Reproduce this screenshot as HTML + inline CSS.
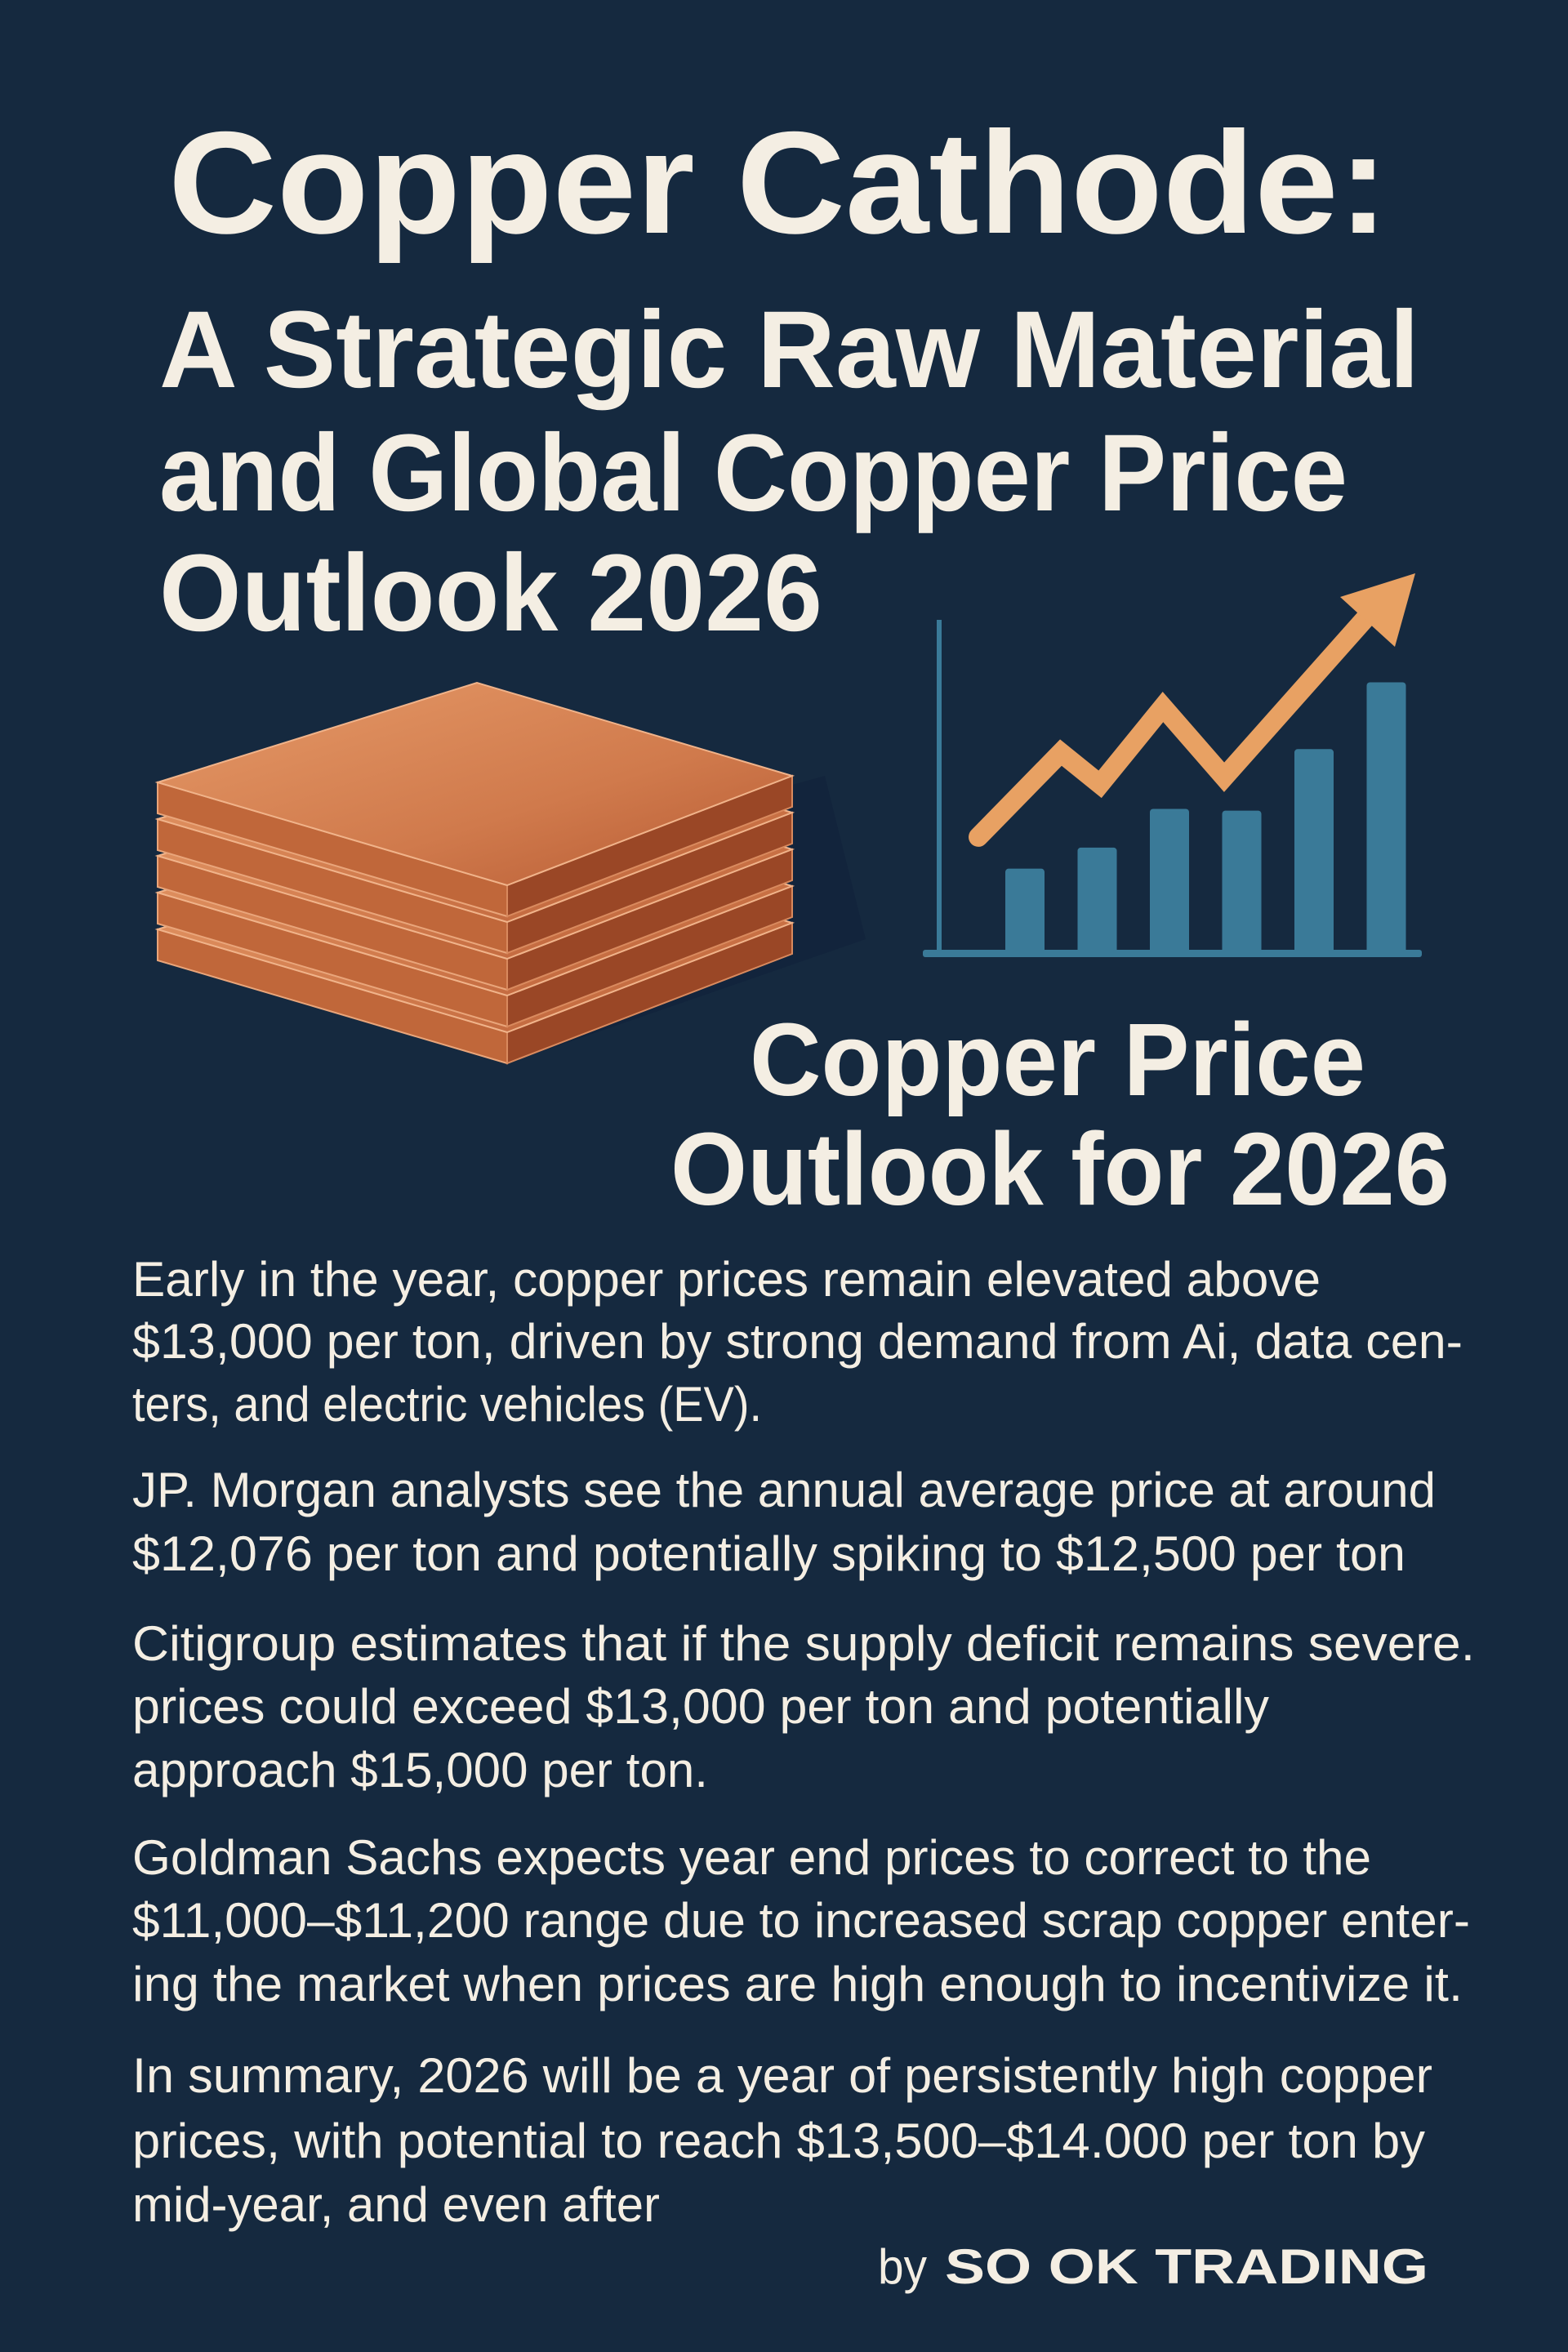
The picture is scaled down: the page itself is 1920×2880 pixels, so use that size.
<!DOCTYPE html>
<html><head><meta charset="utf-8"><title>Copper Cathode Outlook 2026</title>
<style>
html,body{margin:0;padding:0;background:#15293f;}
svg{display:block;}
.t{font-family:"Liberation Sans",sans-serif;font-weight:bold;fill:#f4eee3;}
.b{font-family:"Liberation Sans",sans-serif;fill:#f4eee3;font-size:60px;}
</style></head>
<body>
<svg id="page" width="1920" height="2880" viewBox="0 0 1920 2880" xmlns="http://www.w3.org/2000/svg">
<defs>
<linearGradient id="topg" x1="0" y1="0" x2="1" y2="1">
<stop offset="0" stop-color="#e69a68"/><stop offset="0.6" stop-color="#d07a4c"/><stop offset="1" stop-color="#b65a33"/>
</linearGradient>
</defs>
<rect width="1920" height="2880" fill="#15293f"/>

<g>
<text class="t" x="206" y="285" font-size="178" textLength="1494" lengthAdjust="spacingAndGlyphs">Copper Cathode:</text>
<text class="t" x="195" y="474" font-size="134" textLength="1543" lengthAdjust="spacingAndGlyphs">A Strategic Raw Material</text>
<text class="t" x="195" y="625" font-size="134" textLength="1455" lengthAdjust="spacingAndGlyphs">and Global Copper Price</text>
<text class="t" x="195" y="772" font-size="134" textLength="812" lengthAdjust="spacingAndGlyphs">Outlook 2026</text>
</g>

<g id="plates"></g>
<g id="chart"></g>

<g>
<text class="t" x="918" y="1341" font-size="126" textLength="754" lengthAdjust="spacingAndGlyphs">Copper Price</text>
<text class="t" x="821" y="1475" font-size="126" textLength="954" lengthAdjust="spacingAndGlyphs">Outlook for 2026</text>
</g>

<g>
<text class="b" x="162" y="1587" textLength="1455" lengthAdjust="spacingAndGlyphs">Early in the year, copper prices remain elevated above</text>
<text class="b" x="162" y="1663" textLength="1629" lengthAdjust="spacingAndGlyphs">$13,000 per ton, driven by strong demand from Ai, data cen-</text>
<text class="b" x="162" y="1740" textLength="771" lengthAdjust="spacingAndGlyphs">ters, and electric vehicles (EV).</text>
<text class="b" x="162" y="1845" textLength="1596" lengthAdjust="spacingAndGlyphs">JP. Morgan analysts see the annual average price at around</text>
<text class="b" x="162" y="1923" textLength="1559" lengthAdjust="spacingAndGlyphs">$12,076 per ton and potentially spiking to $12,500 per ton</text>
<text class="b" x="162" y="2033" textLength="1644" lengthAdjust="spacingAndGlyphs">Citigroup estimates that if the supply deficit remains severe.</text>
<text class="b" x="162" y="2110" textLength="1392" lengthAdjust="spacingAndGlyphs">prices could exceed $13,000 per ton and potentially</text>
<text class="b" x="162" y="2188" textLength="705" lengthAdjust="spacingAndGlyphs">approach $15,000 per ton.</text>
<text class="b" x="162" y="2295" textLength="1517" lengthAdjust="spacingAndGlyphs">Goldman Sachs expects year end prices to correct to the</text>
<text class="b" x="162" y="2372" textLength="1638" lengthAdjust="spacingAndGlyphs">$11,000–$11,200 range due to increased scrap copper enter-</text>
<text class="b" x="162" y="2450" textLength="1629" lengthAdjust="spacingAndGlyphs">ing the market when prices are high enough to incentivize it.</text>
<text class="b" x="162" y="2562" textLength="1592" lengthAdjust="spacingAndGlyphs">In summary, 2026 will be a year of persistently high copper</text>
<text class="b" x="162" y="2642" textLength="1583" lengthAdjust="spacingAndGlyphs">prices, with potential to reach $13,500–$14.000 per ton by</text>
<text class="b" x="162" y="2720" textLength="646" lengthAdjust="spacingAndGlyphs">mid-year, and even after</text>
</g>

<g>
<text class="b" x="1075" y="2796" textLength="60" lengthAdjust="spacingAndGlyphs">by</text>
<text class="t" x="1157" y="2796" font-size="60" textLength="592" lengthAdjust="spacingAndGlyphs">SO OK TRADING</text>
</g>
</svg>
<script>
// Chart icon data
const barLabels = ["p1","p2","p3","p4","p5","p6"];
const barValues = [24, 30, 41, 40.5, 58, 77];
const lineValues = [33, 57, 48, 70, 50, 96];
const arrowTipValue = 108;

const NS = "http://www.w3.org/2000/svg";
const chart = document.getElementById("chart");
const baseY = 1167, topY = 702, x0 = 1150;
function yScale(v){ return baseY - v * (baseY - topY) / 108; }
function xBar(i){ return 1255 + i * 88.5; }
function xLine(i){ return [1198,1299,1347,1424,1499,1675][i]; }
function mk(tag, attrs){ const e = document.createElementNS(NS, tag); for (const k in attrs) e.setAttribute(k, attrs[k]); return e; }

const yAxis = mk("line", {x1:x0, y1:759, x2:x0, y2:baseY, stroke:"#3a7a98", "stroke-width":6});


chart.appendChild(yAxis);

barValues.forEach((v, i) => {
  const y = yScale(v);
  const r = mk("rect", {x: xBar(i) - 24, y: y, width: 48, height: baseY - y, rx: 4, fill: "#3a7a98"});
  
  
  chart.appendChild(r);
});

const xAxis = mk("rect", {x:1130, y:baseY - 4, width:611, height:9, rx:3, fill:"#3a7a98"});


chart.appendChild(xAxis);

let pts = lineValues.map((v, i) => xLine(i) + "," + yScale(v)).join(" ");
const pl = mk("polyline", {points: pts, fill: "none", stroke: "#e8a163", "stroke-width": 24, "stroke-linejoin": "miter", "stroke-linecap": "round"});


chart.appendChild(pl);
const tipY = yScale(arrowTipValue);
const head = mk("polygon", {points: `1733,${tipY} 1641,${tipY+29} 1708,${tipY+90}`, fill: "#e8a163"});


chart.appendChild(head);

// Copper plates
const plates = document.getElementById("plates");
const L=[193,958], B=[584,836], R=[970,950], F=[621,1084], h=38, step=45;
const shadow = mk("polygon", {points:`${L[0]},${L[1]+4*step+h} ${F[0]},${F[1]+4*step+h} ${R[0]+90},${R[1]+4*step+20} ${R[0]+40},${R[1]}`, fill:"#10213a", opacity:"0.6"});


plates.appendChild(shadow);
for (let i = 4; i >= 0; i--) {
  const d = i * step;
  const g = mk("g", {});
  
  
  g.appendChild(mk("polygon", {points:`${L[0]},${L[1]+d} ${F[0]},${F[1]+d} ${F[0]},${F[1]+d+h} ${L[0]},${L[1]+d+h}`, fill:"#c0673a", stroke:"#e9a57a", "stroke-width":2}));
  g.appendChild(mk("polygon", {points:`${F[0]},${F[1]+d} ${R[0]},${R[1]+d} ${R[0]},${R[1]+d+h} ${F[0]},${F[1]+d+h}`, fill:"#9a4726", stroke:"#d98a5e", "stroke-width":2}));
  g.appendChild(mk("polygon", {points:`${L[0]},${L[1]+d} ${B[0]},${B[1]+d} ${R[0]},${R[1]+d} ${F[0]},${F[1]+d}`, fill:"url(#topg)", stroke:"#f0b38a", "stroke-width":2}));
  plates.appendChild(g);
}
</script>
</body></html>
